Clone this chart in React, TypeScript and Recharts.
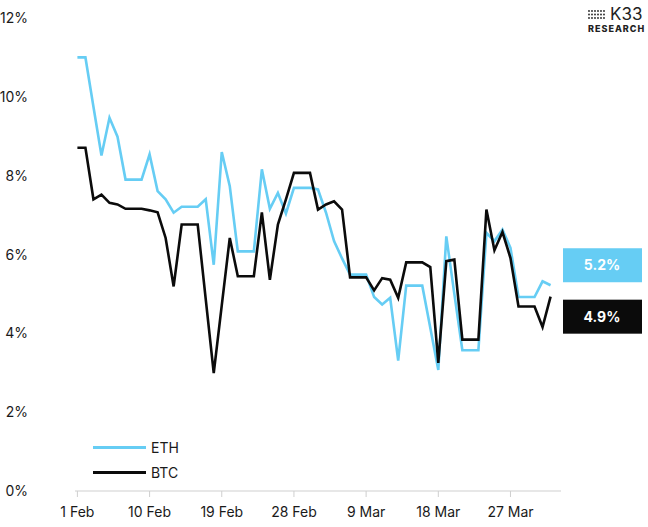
import React from 'react';
import { LineChart, Line, XAxis, YAxis } from 'recharts';

// daily values from 1 Feb, in %
const eth = [
  11.0, 11.0, 9.75, 8.51, 9.47, 8.99, 7.9, 7.9, 7.9, 8.54,
  7.61, 7.4, 7.06, 7.21, 7.21, 7.21, 7.4, 5.74, 8.6, 7.73,
  6.08, 6.08, 6.08, 8.16, 7.16, 7.56, 7.04, 7.69, 7.69, 7.69,
  7.65, 7.06, 6.34, 5.9, 5.49, 5.49, 5.49, 4.92, 4.73, 4.9,
  3.31, 5.21, 5.21, 5.21, 4.14, 3.07, 6.46, 5.0, 3.57, 3.57,
  3.57, 6.55, 6.34, 6.63, 6.17, 4.92, 4.92, 4.92, 5.32, 5.22,
];

const btc = [
  8.71, 8.71, 7.4, 7.52, 7.31, 7.27, 7.16, 7.16, 7.16, 7.12,
  7.07, 6.42, 5.19, 6.76, 6.76, 6.76, 4.87, 2.99, 4.71, 6.42,
  5.45, 5.45, 5.45, 7.07, 5.36, 6.76, 7.4, 8.07, 8.07, 8.07,
  7.14, 7.27, 7.35, 7.14, 5.42, 5.42, 5.42, 5.09, 5.4, 5.36,
  4.9, 5.8, 5.8, 5.8, 5.68, 3.25, 5.83, 5.87, 3.84, 3.84,
  3.84, 7.14, 6.11, 6.57, 5.91, 4.68, 4.68, 4.68, 4.16, 4.93,
];

const seriesNames = ['ETH', 'BTC'];
const xTicks = [0, 9, 18, 27, 36, 45, 54];
const xTickLabels = ['1 Feb', '10 Feb', '19 Feb', '28 Feb', '9 Mar', '18 Mar', '27 Mar'];
const yTicks = [0, 2, 4, 6, 8, 10, 12];

const ETH_COLOR = '#66cdf4';
const BTC_COLOR = '#0b0b0b';
const FONT = 'Inter, "Open Sans", sans-serif';

const data = eth.map((v, i) => ({ day: i, eth: v, btc: btc[i] }));
const lastIndex = data.length - 1;

function XTick({ x, y, payload }: any) {
  const idx = xTicks.indexOf(payload.value);
  return (
    <text x={x} y={y + 18} textAnchor="middle" fontSize={14} fill="#1a1a1a" fontFamily={FONT}>
      {xTickLabels[idx]}
    </text>
  );
}

function YTick({ y, payload }: any) {
  return (
    <text x={28} y={y + 5} textAnchor="end" fontSize={14} fill="#1a1a1a" fontFamily={FONT}>
      {payload.value}%
    </text>
  );
}

function endLabel(fill: string, shift: number) {
  return (props: any) => {
    const { index, y, value } = props;
    if (index !== lastIndex) return null;
    const boxY = y + shift;
    return (
      <g>
        <rect x={563} y={boxY - 17} width={79} height={34} fill={fill} />
        <text
          x={602}
          y={boxY + 5}
          textAnchor="middle"
          fontSize={14}
          fontWeight={700}
          fill="#fff"
          fontFamily={FONT}
        >
          {value.toFixed(1)}%
        </text>
      </g>
    );
  };
}

function LegendBox() {
  const colors = [ETH_COLOR, BTC_COLOR];
  return (
    <div style={{ position: 'absolute', left: 93, top: 435, fontFamily: FONT, fontSize: 14, color: '#1a1a1a' }}>
      {seriesNames.map((name, i) => (
        <div key={name} style={{ display: 'flex', alignItems: 'center', height: 25 }}>
          <div style={{ width: 53, height: 3, background: colors[i], marginRight: 5 }} />
          <span>{name}</span>
        </div>
      ))}
    </div>
  );
}

function Logo() {
  const dots = [];
  for (let r = 0; r < 3; r++) {
    for (let c = 0; c < 6; c++) {
      dots.push(<circle key={`${r}-${c}`} cx={1 + c * 3} cy={2 + r * 3.5} r={0.9} fill="#222" />);
    }
  }
  return (
    <div style={{ position: 'absolute', left: 588, top: 7, fontFamily: FONT, color: '#222', whiteSpace: 'nowrap' }}>
      <div style={{ display: 'flex', alignItems: 'center', height: 14 }}>
        <svg width={19} height={10} style={{ marginRight: 3 }}>{dots}</svg>
        <span style={{ fontSize: 17, lineHeight: '14px' }}>K33</span>
      </div>
      <div style={{ fontSize: 9, fontWeight: 800, letterSpacing: 1, marginTop: 3, lineHeight: '10px' }}>
        RESEARCH
      </div>
    </div>
  );
}

export default function App() {
  return (
    <div style={{ position: 'absolute', left: 0, top: 0, width: 648, height: 527, background: '#fff', overflow: 'hidden' }}>
      <LineChart width={648} height={527} data={data} margin={{ top: 18, right: 87, left: 0, bottom: 0 }}>
        <XAxis
          dataKey="day"
          type="number"
          domain={[-0.3, 60.3]}
          ticks={xTicks}
          height={36}
          stroke="#cfcfcf"
          tickSize={6}
          tick={<XTick />}
        />
        <YAxis
          domain={[0, 12]}
          ticks={yTicks}
          width={75}
          axisLine={false}
          tickLine={false}
          tick={<YTick />}
        />
        <Line
          dataKey="eth"
          name={seriesNames[0]}
          stroke={ETH_COLOR}
          strokeWidth={2.6}
          dot={false}
          isAnimationActive={false}
          label={endLabel(ETH_COLOR, -20)}
        />
        <Line
          dataKey="btc"
          name={seriesNames[1]}
          stroke={BTC_COLOR}
          strokeWidth={2.6}
          dot={false}
          isAnimationActive={false}
          label={endLabel(BTC_COLOR, 20)}
        />
      </LineChart>
      <LegendBox />
      <Logo />
    </div>
  );
}
